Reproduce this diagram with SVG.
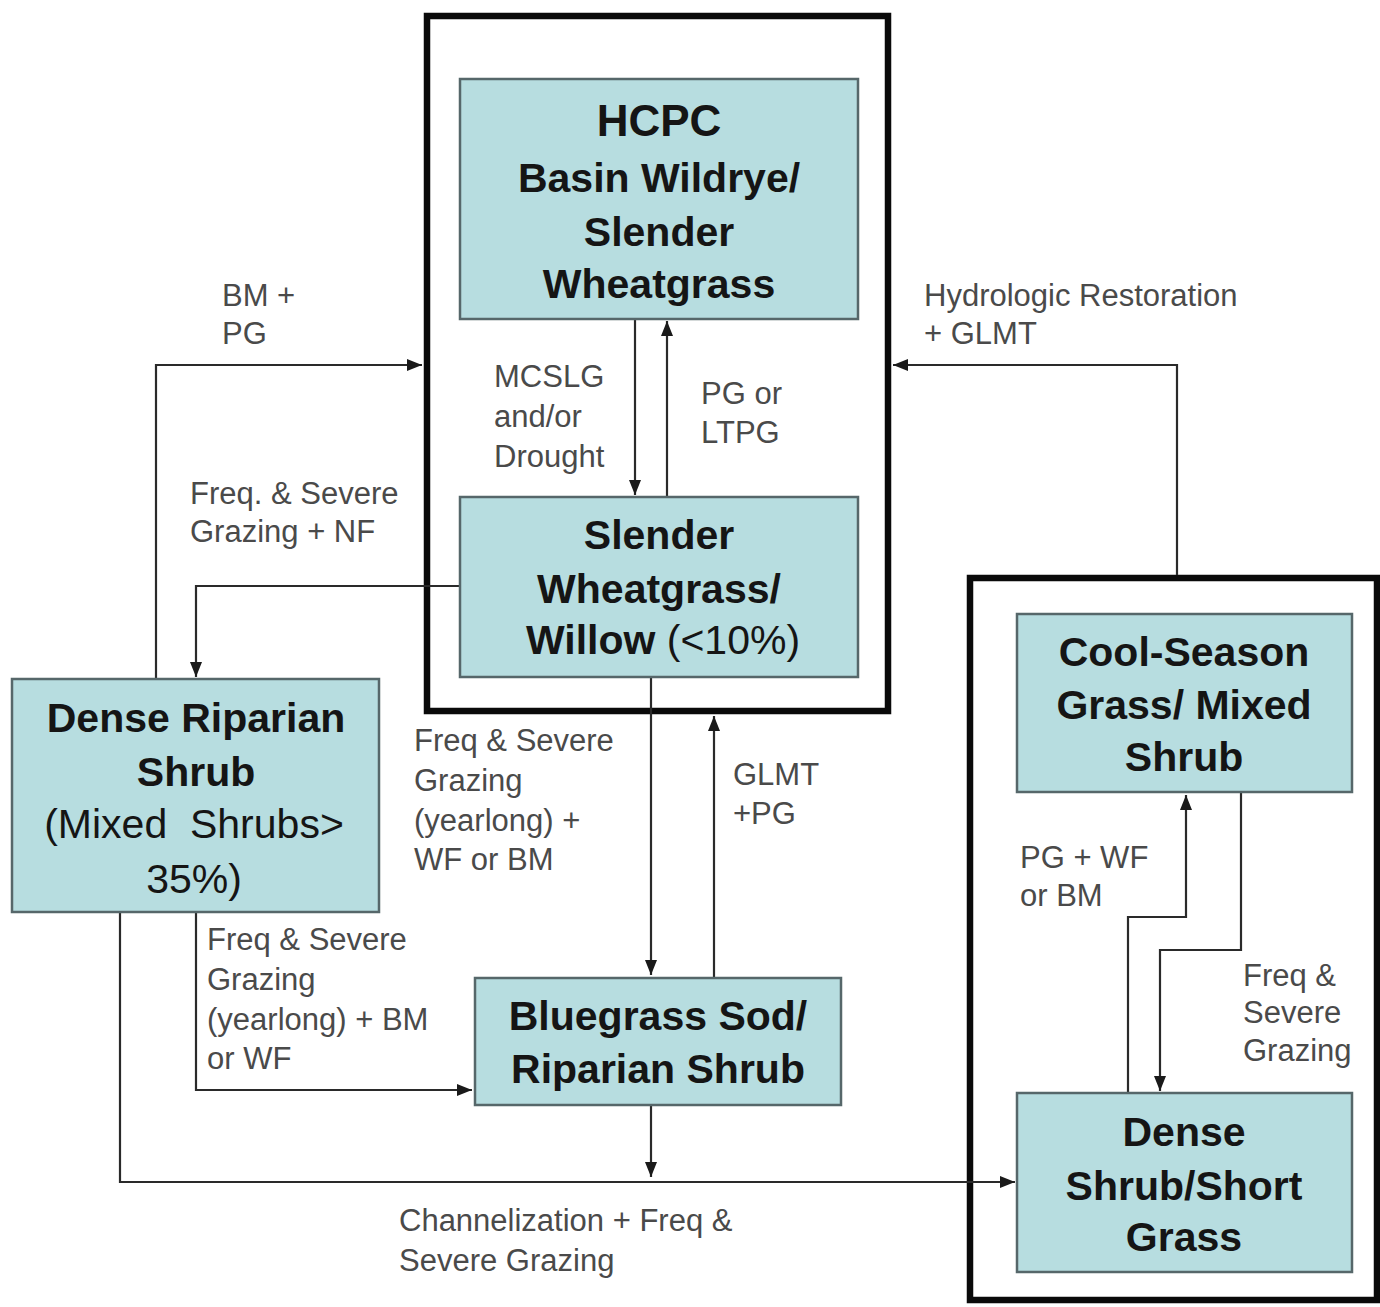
<svg xmlns="http://www.w3.org/2000/svg" width="1380" height="1307" viewBox="0 0 1380 1307">
<defs>
<style>
.box{fill:#b7dde0;stroke:#56676a;stroke-width:2.5}
.outer{fill:none;stroke:#0a0a0a;stroke-width:6.5}
.nt{font-family:"Liberation Sans",Arial,sans-serif;font-size:41px;font-weight:bold;fill:#151515;text-anchor:middle}
.nr{font-weight:normal}
.lb{font-family:"Liberation Sans",Arial,sans-serif;font-size:31px;fill:#4a4a4a}
.cn{fill:none;stroke:#2a2a2a;stroke-width:2.2;marker-end:url(#arr)}
.ln{fill:none;stroke:#2a2a2a;stroke-width:2.2}
</style>
<marker id="arr" markerWidth="15" markerHeight="12" refX="15" refY="6" orient="auto" markerUnits="userSpaceOnUse">
<path d="M0,0 L15,6 L0,12 z" fill="#1a1a1a"/>
</marker>
</defs>
<rect width="1380" height="1307" fill="#ffffff"/>

<g id="group-reference">
<rect class="outer" x="427" y="16" width="461" height="695"/>
</g>
<g id="group-alt">
<rect class="outer" x="970" y="578" width="407" height="722"/>
</g>

<g id="connectors">
<path class="cn" d="M156,679 V365 H422"/>
<path class="cn" d="M460,586 H196 V677"/>
<path class="cn" d="M1177,575 V365 H893"/>
<path class="cn" d="M635,319 V495"/>
<path class="cn" d="M667,497 V321"/>
<path class="cn" d="M651,677 V975"/>
<path class="cn" d="M714,977 V716"/>
<path class="cn" d="M196,912 V1090 H472"/>
<path class="cn" d="M120,912 V1182 H1015"/>
<path class="cn" d="M651,1105 V1177"/>
<path class="cn" d="M1128,1093 V917 H1186 V795"/>
<path class="cn" d="M1241,792 V950 H1160 V1091"/>
</g>

<g id="labels">
<text class="lb" x="222" y="306">BM +</text>
<text class="lb" x="222" y="344">PG</text>
<text class="lb" x="190" y="504">Freq. &amp; Severe</text>
<text class="lb" x="190" y="542">Grazing + NF</text>
<text class="lb" x="494" y="387">MCSLG</text>
<text class="lb" x="494" y="427">and/or</text>
<text class="lb" x="494" y="467">Drought</text>
<text class="lb" x="701" y="404">PG or</text>
<text class="lb" x="701" y="443">LTPG</text>
<text class="lb" x="924" y="306">Hydrologic Restoration</text>
<text class="lb" x="924" y="344">+ GLMT</text>
<text class="lb" x="414" y="751">Freq &amp; Severe</text>
<text class="lb" x="414" y="791">Grazing</text>
<text class="lb" x="414" y="831">(yearlong) +</text>
<text class="lb" x="414" y="870">WF or BM</text>
<text class="lb" x="733" y="785">GLMT</text>
<text class="lb" x="733" y="824">+PG</text>
<text class="lb" x="207" y="950">Freq &amp; Severe</text>
<text class="lb" x="207" y="990">Grazing</text>
<text class="lb" x="207" y="1030">(yearlong) + BM</text>
<text class="lb" x="207" y="1069">or WF</text>
<text class="lb" x="399" y="1231">Channelization + Freq &amp;</text>
<text class="lb" x="399" y="1271">Severe Grazing</text>
<text class="lb" x="1020" y="868">PG + WF</text>
<text class="lb" x="1020" y="906">or BM</text>
<text class="lb" x="1243" y="986">Freq &amp;</text>
<text class="lb" x="1243" y="1023">Severe</text>
<text class="lb" x="1243" y="1061">Grazing</text>
</g>

<g id="node-hcpc">
<rect class="box" x="460" y="79" width="398" height="240"/>
<text class="nt" x="659" y="136" style="font-size:44px">HCPC</text>
<text class="nt" x="659" y="192">Basin Wildrye/</text>
<text class="nt" x="659" y="246">Slender</text>
<text class="nt" x="659" y="298">Wheatgrass</text>
</g>

<g id="node-slender-willow">
<rect class="box" x="460" y="497" width="398" height="180"/>
<text class="nt" x="659" y="549">Slender</text>
<text class="nt" x="659" y="603">Wheatgrass/</text>
<text class="nt" x="663" y="654">Willow <tspan class="nr">(&lt;10%)</tspan></text>
</g>

<g id="node-dense-riparian">
<rect class="box" x="12" y="679" width="367" height="233"/>
<text class="nt" x="196" y="732">Dense Riparian</text>
<text class="nt" x="196" y="786">Shrub</text>
<text class="nt nr" x="194" y="838" xml:space="preserve">(Mixed  Shrubs&gt;</text>
<text class="nt nr" x="194" y="893">35%)</text>
</g>

<g id="node-bluegrass">
<rect class="box" x="475" y="978" width="366" height="127"/>
<text class="nt" x="658" y="1030">Bluegrass Sod/</text>
<text class="nt" x="658" y="1083">Riparian Shrub</text>
</g>

<g id="node-cool-season">
<rect class="box" x="1017" y="614" width="335" height="178"/>
<text class="nt" x="1184" y="666">Cool-Season</text>
<text class="nt" x="1184" y="719">Grass/ Mixed</text>
<text class="nt" x="1184" y="771">Shrub</text>
</g>

<g id="node-dense-shrub">
<rect class="box" x="1017" y="1093" width="335" height="179"/>
<text class="nt" x="1184" y="1146">Dense</text>
<text class="nt" x="1184" y="1200">Shrub/Short</text>
<text class="nt" x="1184" y="1251">Grass</text>
</g>
</svg>
